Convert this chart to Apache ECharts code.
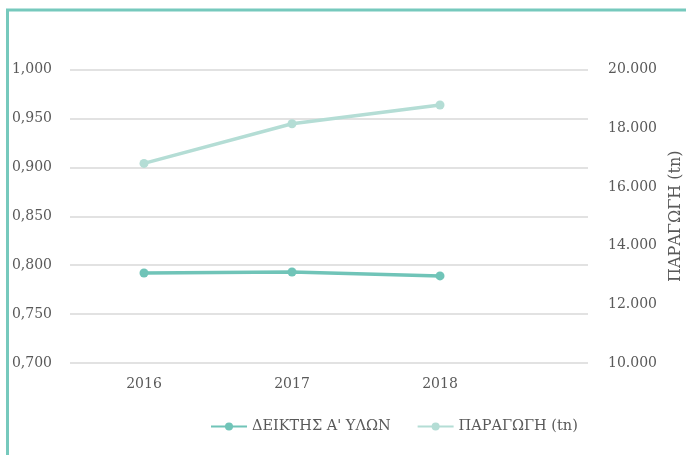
<!DOCTYPE html>
<html>
<head>
<meta charset="utf-8">
<script src="https://cdn.jsdelivr.net/npm/echarts@6/dist/echarts.min.js"></script>
<style>
  html, body { margin: 0; padding: 0; background: #fff; }
  #chart { width: 686px; height: 455px; }
</style>
</head>
<body>
<div id="chart"></div>
<script>
const years = [2016, 2017, 2018];
const indexName = "ΔΕΙΚΤΗΣ Α' ΥΛΩΝ";
const prodName = "ΠΑΡΑΓΩΓΗ (tn)";
const indexValues = [0.792, 0.793, 0.789];
const prodValues = [16800, 18150, 18790];

const font = "DejaVu Serif";
const textColor = "#595959";

const myChart = echarts.init(document.getElementById("chart"));

const option = {
  animation: false,
  textStyle: { fontFamily: font },
  graphic: [
    {
      type: "polyline",
      shape: { points: [[7.5, 460], [7.5, 10], [690, 10]] },
      style: { stroke: "#76c9bd", lineWidth: 3, fill: null },
    },
  ],
  grid: { left: 70, right: 98, top: 69.5, bottom: 92, outerBoundsMode: "none", containLabel: false },
  legend: {
    bottom: 16,
    left: 205,
    itemWidth: 36,
    itemHeight: 10,
    itemGap: 26,
    textStyle: { color: textColor, fontSize: 14.5, fontFamily: font },
    data: [indexName, prodName],
  },
  xAxis: {
    type: "value",
    min: 2015.5,
    max: 2019,
    axisLine: { show: false },
    axisTick: { show: false },
    splitLine: { show: false },
    axisLabel: {
      customValues: years,
      color: textColor,
      fontSize: 14,
      margin: 14,
      formatter: (v) => String(v),
    },
  },
  yAxis: [
    {
      type: "value",
      min: 0.7,
      max: 1.0,
      interval: 0.05,
      axisLine: { show: false },
      axisTick: { show: false },
      splitLine: { lineStyle: { color: "#d9d9d9", width: 1.5 } },
      axisLabel: {
        color: textColor,
        fontSize: 14,
        margin: 18,
        formatter: (v) => v.toFixed(3).replace(".", ","),
      },
    },
    {
      type: "value",
      min: 10000,
      max: 20000,
      interval: 2000,
      name: prodName,
      nameLocation: "middle",
      nameRotate: 90,
      nameGap: 80,
      nameTextStyle: { color: textColor, fontSize: 16, fontFamily: font },
      axisLine: { show: false },
      axisTick: { show: false },
      splitLine: { show: false },
      axisLabel: {
        color: textColor,
        fontSize: 14,
        margin: 20,
        formatter: (v) => String(v).replace(/\B(?=(\d{3})+(?!\d))/g, "."),
      },
    },
  ],
  series: [
    {
      name: indexName,
      type: "line",
      yAxisIndex: 0,
      data: years.map((y, i) => [y, indexValues[i]]),
      symbol: "circle",
      symbolSize: 9,
      itemStyle: { color: "#70c4b8" },
      lineStyle: { color: "#70c4b8", width: 3.5 },
    },
    {
      name: prodName,
      type: "line",
      yAxisIndex: 1,
      data: years.map((y, i) => [y, prodValues[i]]),
      symbol: "circle",
      symbolSize: 9,
      itemStyle: { color: "#b4ddd5" },
      lineStyle: { color: "#b4ddd5", width: 3.5 },
    },
  ],
};

option && myChart.setOption(option);
</script>
</body>
</html>
